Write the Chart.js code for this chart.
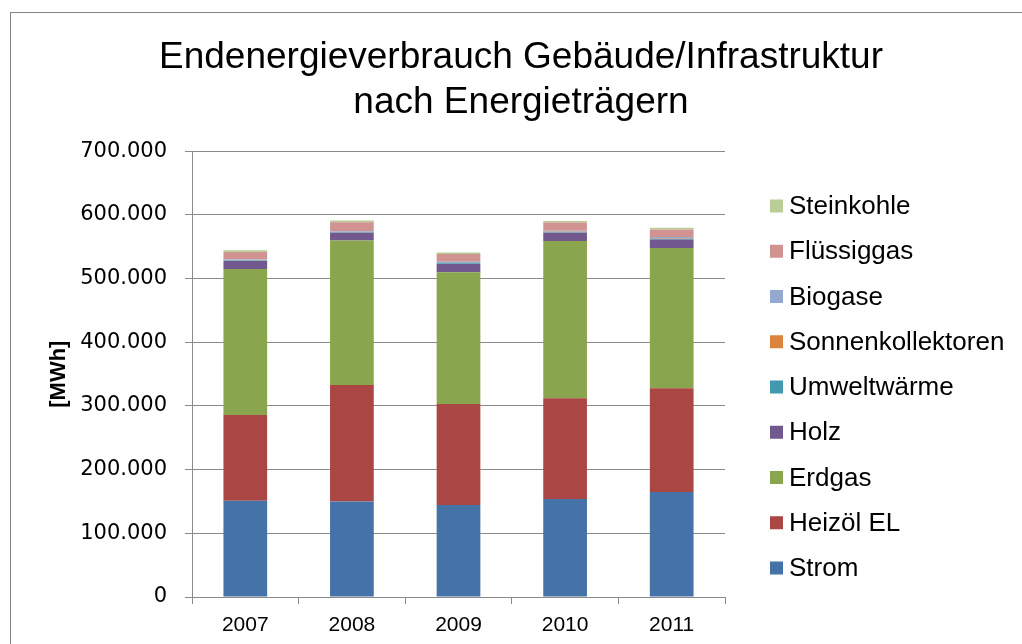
<!DOCTYPE html>
<html>
<head>
<meta charset="utf-8">
<script src="https://cdn.jsdelivr.net/npm/chart.js@4"></script>
<style>
  body { margin: 0; background: #fff; }
  #wrap { width: 1022px; height: 644px; }
</style>
</head>
<body>
<div id="wrap"><canvas id="energyChart" width="1022" height="644"></canvas></div>
<script>
const years = ["2007", "2008", "2009", "2010", "2011"];

const strom = [151000, 150000, 144500, 154000, 165000];
const heizoel = [135000, 183000, 158500, 158000, 163000];
const erdgas = [229000, 227000, 207000, 247000, 220000];
const holz = [12500, 12000, 13000, 13000, 13600];
const umweltwaerme = [800, 900, 1100, 1000, 1200];
const sonnenkollektoren = [400, 400, 500, 500, 600];
const biogase = [1300, 1300, 2000, 1500, 1800];
const fluessiggas = [12000, 14000, 12000, 13000, 12000];
const steinkohle = [2500, 2600, 2600, 2600, 2600];

const yTicks = [0, 100000, 200000, 300000, 400000, 500000, 600000, 700000];

const gridColor = "#8a8a8a";
const sans = "'Liberation Sans', Arial, sans-serif";

function fmt(v) {
  return v.toString().replace(/\B(?=(\d{3})+(?!\d))/g, ".");
}

const framePlugin = {
  id: "frame",
  beforeDraw(chart) {
    const ctx = chart.ctx;
    ctx.save();
    ctx.fillStyle = "#fff";
    ctx.fillRect(0, 0, chart.width, chart.height);
    ctx.strokeStyle = "#868686";
    ctx.lineWidth = 1;
    ctx.strokeRect(10.5, 12.5, 1100, 700);
    ctx.restore();
  },
};

// legend drawn by hand, Excel style (last series on top)
const sideLegend = {
  id: "sideLegend",
  afterDraw(chart) {
    const ctx = chart.ctx;
    const sets = chart.data.datasets.slice().reverse();
    ctx.save();
    ctx.font = "26px " + sans;
    ctx.textBaseline = "middle";
    ctx.fillStyle = "#000";
    sets.forEach((ds, i) => {
      const y = 206 + i * 45.25;
      ctx.fillStyle = ds.backgroundColor;
      ctx.fillRect(770, y - 6.5, 13, 13);
      ctx.fillStyle = "#000";
      ctx.fillText(ds.label, 789, y + 1);
    });
    ctx.restore();
  },
};

const ctx = document.getElementById("energyChart");

new Chart(ctx, {
  type: "bar",
  data: {
    labels: years,
    datasets: [
      { label: "Strom", data: strom, backgroundColor: "#4572A7" },
      { label: "Heizöl EL", data: heizoel, backgroundColor: "#AA4643" },
      { label: "Erdgas", data: erdgas, backgroundColor: "#89A54E" },
      { label: "Holz", data: holz, backgroundColor: "#71588F" },
      { label: "Umweltwärme", data: umweltwaerme, backgroundColor: "#4198AF" },
      { label: "Sonnenkollektoren", data: sonnenkollektoren, backgroundColor: "#DB843D" },
      { label: "Biogase", data: biogase, backgroundColor: "#93A9CF" },
      { label: "Flüssiggas", data: fluessiggas, backgroundColor: "#D19392" },
      { label: "Steinkohle", data: steinkohle, backgroundColor: "#B9CD96" },
    ],
  },
  options: {
    responsive: false,
    animation: false,
    layout: {
      padding: { top: 35, left: 42, right: 22, bottom: 2 },
    },
    datasets: {
      bar: {
        barPercentage: 0.82,
        categoryPercentage: 0.5,
        borderWidth: 0,
      },
    },
    plugins: {
      title: {
        display: true,
        text: ["Endenergieverbrauch Gebäude/Infrastruktur", "nach Energieträgern"],
        color: "#000",
        font: { family: sans, size: 37, weight: "normal", lineHeight: 1.22 },
        padding: { top: 0, bottom: 26 },
      },
      legend: { display: false },
      tooltip: { enabled: false },
    },
    scales: {
      x: {
        stacked: true,
        afterFit(scale) {
          scale.height = 45;
        },
        grid: {
          display: true,
          offset: true,
          drawOnChartArea: false,
          color: gridColor,
          tickLength: 7,
        },
        border: { color: gridColor },
        ticks: {
          color: "#000",
          font: { family: sans, size: 21 },
          padding: 9,
        },
      },
      y: {
        stacked: true,
        min: 0,
        max: 700000,
        afterBuildTicks(scale) {
          scale.ticks = yTicks.map((v) => ({ value: v }));
        },
        afterFit(scale) {
          scale.width = 150;
        },
        grid: { color: gridColor, tickLength: 7 },
        border: { color: gridColor },
        ticks: {
          color: "#000",
          font: { family: "'DejaVu Sans', sans-serif", size: 21 },
          padding: 18,
          callback: (v) => fmt(v),
        },
        title: {
          display: true,
          text: "[MWh]",
          color: "#000",
          font: { family: sans, size: 22, weight: "bold" },
        },
      },
      gap: {
        type: "linear",
        position: "right",
        display: true,
        grid: { display: false },
        border: { display: false },
        ticks: { display: false },
        afterFit(scale) {
          scale.width = 275;
        },
      },
    },
  },
  plugins: [framePlugin, sideLegend],
});
</script>
</body>
</html>
